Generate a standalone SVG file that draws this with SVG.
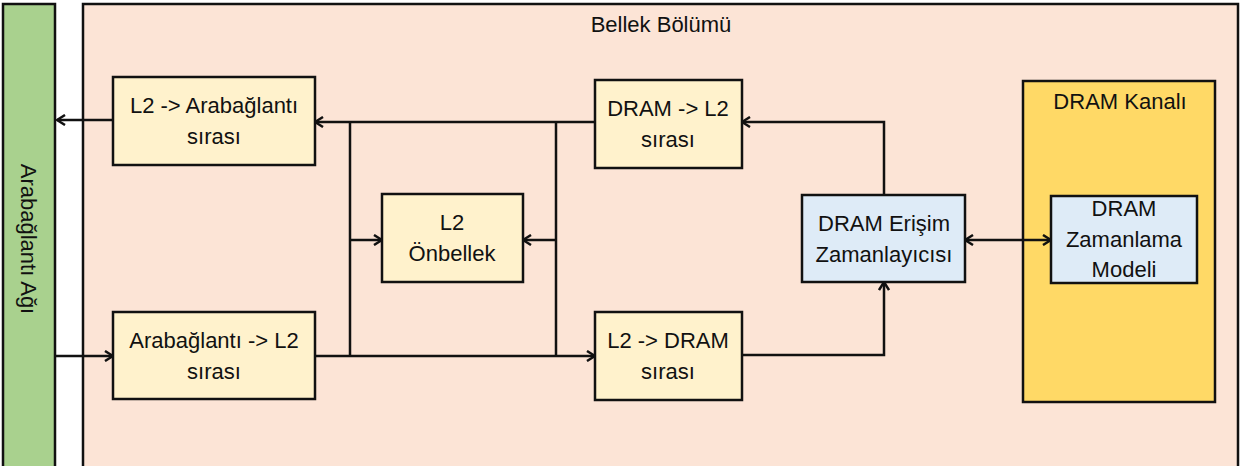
<svg xmlns="http://www.w3.org/2000/svg" width="1243" height="466" viewBox="0 0 1243 466">
<defs>
<style>
.box{stroke:#111;stroke-width:2.5}
.y{fill:#fff2cc}
.b{fill:#deebf7}
.t{font-family:"Liberation Sans",Arial,sans-serif;font-size:22px;fill:#111;text-anchor:middle}
.s{font-family:"Liberation Sans",Arial,sans-serif;font-size:22px;fill:#111;text-anchor:middle}
.c{fill:none;stroke:#111;stroke-width:2.5}
</style>
<marker id="a" viewBox="0 0 12 12" refX="11" refY="6" markerWidth="12" markerHeight="12" markerUnits="userSpaceOnUse" orient="auto-start-reverse">
<path d="M3,1 L11,6 L3,11" fill="none" stroke="#111" stroke-width="2.5"/>
</marker>
</defs>
<rect width="1243" height="466" fill="#fff"/>
<g id="interconnect">
<rect x="3" y="4" width="52" height="470" fill="#a9d18e" class="box"/>
<text class="s" font-size="23" transform="translate(21,239) rotate(90)">Arabağlantı Ağı</text>
</g>
<g id="memory-partition">
<rect x="83" y="4" width="1155" height="470" fill="#fce4d6" class="box"/>
<text class="s" x="661" y="32">Bellek Bölümü</text>
</g>
<g id="dram-channel">
<rect x="1023" y="81" width="192" height="321" fill="#ffd966" class="box"/>
<text class="s" x="1120" y="109">DRAM Kanalı</text>
</g>
<g id="connectors">
<path class="c" d="M113,120 H57" marker-end="url(#a)"/>
<path class="c" d="M55,356 H113" marker-end="url(#a)"/>
<path class="c" d="M595,122 H315" marker-end="url(#a)"/>
<path class="c" d="M350,121 V356"/>
<path class="c" d="M556,122 V356"/>
<path class="c" d="M350,240 H382" marker-end="url(#a)"/>
<path class="c" d="M556,240 H523" marker-end="url(#a)"/>
<path class="c" d="M315,356 H595" marker-end="url(#a)"/>
<path class="c" d="M884,195 V122 H742" marker-end="url(#a)"/>
<path class="c" d="M742,355 H884 V282" marker-end="url(#a)"/>
<path class="c" d="M965,240 H1051" marker-start="url(#a)" marker-end="url(#a)"/>
</g>
<g id="l2-to-icnt">
<rect x="113" y="77" width="202" height="88" class="box y"/>
<text class="t" x="214" y="113">L2 -&gt; Arabağlantı</text>
<text class="t" x="214" y="144">sırası</text>
</g>
<g id="icnt-to-l2">
<rect x="113" y="312" width="202" height="87" class="box y"/>
<text class="t" x="214" y="348">Arabağlantı -&gt; L2</text>
<text class="t" x="214" y="379">sırası</text>
</g>
<g id="l2-cache">
<rect x="382" y="194" width="141" height="88" class="box y"/>
<text class="t" x="452" y="230">L2</text>
<text class="t" x="452" y="261">Önbellek</text>
</g>
<g id="dram-to-l2">
<rect x="595" y="80" width="147" height="88" class="box y"/>
<text class="t" x="668" y="116">DRAM -&gt; L2</text>
<text class="t" x="668" y="147">sırası</text>
</g>
<g id="l2-to-dram">
<rect x="595" y="312" width="147" height="88" class="box y"/>
<text class="t" x="668" y="348">L2 -&gt; DRAM</text>
<text class="t" x="668" y="379">sırası</text>
</g>
<g id="dram-scheduler">
<rect x="802" y="195" width="163" height="87" class="box b"/>
<text class="t" x="884" y="231">DRAM Erişim</text>
<text class="t" x="884" y="262">Zamanlayıcısı</text>
</g>
<g id="dram-timing">
<rect x="1051" y="196" width="146" height="87" class="box b"/>
<text class="t" x="1124" y="216">DRAM</text>
<text class="t" x="1124" y="247">Zamanlama</text>
<text class="t" x="1124" y="277">Modeli</text>
</g>
</svg>
